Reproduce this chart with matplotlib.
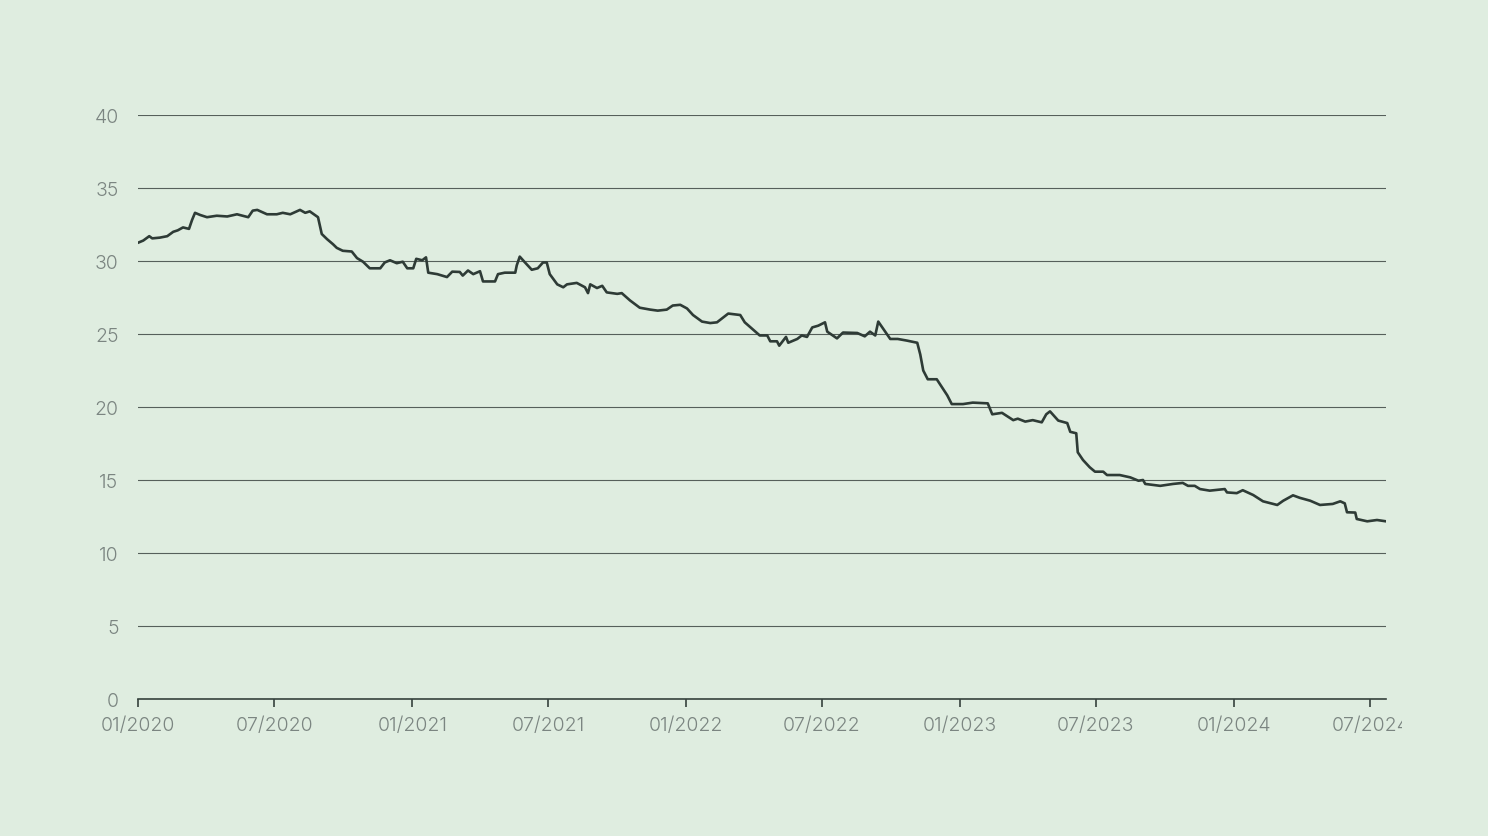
import numpy as np
import pandas as pd
import matplotlib
matplotlib.use("Agg")
import matplotlib.pyplot as plt
import matplotlib.dates as mdates
from matplotlib.transforms import Bbox, TransformedBbox

# values
dates = [
    "2020-01-01", "2020-01-08", "2020-01-16", "2020-01-20", "2020-01-30", "2020-02-09",
    "2020-02-17", "2020-02-23", "2020-03-01", "2020-03-09", "2020-03-13", "2020-03-17",
    "2020-03-24", "2020-04-02", "2020-04-15", "2020-04-29", "2020-05-12", "2020-05-27",
    "2020-06-02", "2020-06-08", "2020-06-21", "2020-07-04", "2020-07-12", "2020-07-22",
    "2020-08-04", "2020-08-11", "2020-08-17", "2020-08-28", "2020-09-02", "2020-09-09",
    "2020-09-17", "2020-09-22", "2020-09-30", "2020-10-12", "2020-10-19", "2020-10-27",
    "2020-11-05", "2020-11-19", "2020-11-25", "2020-12-02", "2020-12-11", "2020-12-19",
    "2020-12-25", "2021-01-02", "2021-01-06", "2021-01-14", "2021-01-19", "2021-01-22",
    "2021-02-03", "2021-02-16", "2021-02-23", "2021-03-05", "2021-03-09", "2021-03-16",
    "2021-03-23", "2021-04-01", "2021-04-05", "2021-04-21", "2021-04-25", "2021-05-04",
    "2021-05-18", "2021-05-20", "2021-05-24", "2021-05-31", "2021-06-09", "2021-06-17",
    "2021-06-24", "2021-06-29", "2021-07-03", "2021-07-13", "2021-07-21", "2021-07-26",
    "2021-08-08", "2021-08-19", "2021-08-23", "2021-08-26", "2021-09-04", "2021-09-11",
    "2021-09-17", "2021-10-01", "2021-10-07", "2021-10-18", "2021-10-31", "2021-11-14",
    "2021-11-24", "2021-12-06", "2021-12-14", "2021-12-24", "2022-01-02", "2022-01-10",
    "2022-01-22", "2022-02-02", "2022-02-11", "2022-02-26", "2022-03-14", "2022-03-20",
    "2022-03-30", "2022-04-09", "2022-04-19", "2022-04-23", "2022-05-02", "2022-05-05",
    "2022-05-14", "2022-05-17", "2022-05-29", "2022-06-04", "2022-06-11", "2022-06-18",
    "2022-06-26", "2022-07-05", "2022-07-08", "2022-07-21", "2022-07-29", "2022-08-17",
    "2022-08-27", "2022-09-03", "2022-09-10", "2022-09-14", "2022-09-20", "2022-09-30",
    "2022-10-10", "2022-10-22", "2022-11-05", "2022-11-09", "2022-11-13", "2022-11-19",
    "2022-12-01", "2022-12-08", "2022-12-15", "2022-12-21", "2023-01-05", "2023-01-18",
    "2023-02-07", "2023-02-13", "2023-02-26", "2023-03-13", "2023-03-19", "2023-03-29",
    "2023-04-08", "2023-04-20", "2023-04-26", "2023-05-01", "2023-05-12", "2023-05-24",
    "2023-05-28", "2023-06-05", "2023-06-07", "2023-06-14", "2023-06-23", "2023-06-30",
    "2023-07-11", "2023-07-16", "2023-08-02", "2023-08-16", "2023-08-27", "2023-09-02",
    "2023-09-05", "2023-09-25", "2023-10-12", "2023-10-25", "2023-11-01", "2023-11-10",
    "2023-11-17", "2023-11-30", "2023-12-20", "2023-12-23", "2024-01-05", "2024-01-13",
    "2024-01-27", "2024-02-09", "2024-02-28", "2024-03-07", "2024-03-20", "2024-03-29",
    "2024-04-12", "2024-04-25", "2024-05-12", "2024-05-22", "2024-05-28", "2024-05-31",
    "2024-06-11", "2024-06-13", "2024-06-27", "2024-07-10", "2024-07-22",
]
values = [
    31.25, 31.4, 31.7, 31.55, 31.6, 31.7,
    32.0, 32.1, 32.3, 32.2, 32.8, 33.3,
    33.15, 33.0, 33.1, 33.05, 33.2, 33.0,
    33.45, 33.5, 33.2, 33.2, 33.3, 33.2,
    33.5, 33.3, 33.4, 33.0, 31.85, 31.5,
    31.15, 30.9, 30.7, 30.65, 30.2, 29.95,
    29.5, 29.5, 29.9, 30.05, 29.85, 29.95,
    29.5, 29.5, 30.15, 30.05, 30.25, 29.2,
    29.1, 28.9, 29.27, 29.25, 29.0, 29.35,
    29.1, 29.3, 28.6, 28.6, 29.1, 29.2,
    29.2, 29.7, 30.3, 29.9, 29.4, 29.5,
    29.9, 29.9, 29.1, 28.4, 28.2, 28.4,
    28.5, 28.2, 27.8, 28.4, 28.15, 28.3,
    27.85, 27.75, 27.8, 27.3, 26.8, 26.67,
    26.6, 26.67, 26.95, 27.0, 26.75, 26.3,
    25.85, 25.75, 25.8, 26.4, 26.3, 25.8,
    25.35, 24.9, 24.9, 24.5, 24.5, 24.2,
    24.8, 24.4, 24.66, 24.9, 24.8, 25.45,
    25.57, 25.8, 25.16, 24.7, 25.1, 25.07,
    24.84, 25.16, 24.9, 25.85, 25.4, 24.66,
    24.66, 24.55, 24.4, 23.6, 22.5, 21.9,
    21.9, 21.35, 20.8, 20.2, 20.2, 20.3,
    20.25, 19.5, 19.6, 19.1, 19.2, 19.0,
    19.1, 18.95, 19.5, 19.7, 19.07, 18.9,
    18.3, 18.2, 16.9, 16.37, 15.87, 15.57,
    15.57, 15.34, 15.34, 15.18, 14.95, 15.0,
    14.73, 14.6, 14.73, 14.8, 14.6, 14.6,
    14.38, 14.27, 14.38, 14.15, 14.1, 14.3,
    13.97, 13.54, 13.29, 13.58, 13.95, 13.78,
    13.58, 13.29, 13.36, 13.54, 13.4, 12.79,
    12.77, 12.33, 12.17, 12.26, 12.17,
]
y_ticks = [0, 5, 10, 15, 20, 25, 30, 35, 40]
x_ticks = ["2020-01-01", "2020-07-01", "2021-01-01", "2021-07-01", "2022-01-01",
           "2022-07-01", "2023-01-01", "2023-07-01", "2024-01-01", "2024-07-01"]

bg = "#dfede0"
line_c = "#2e3b36"
grid_c = "#56605b"
label_c = "#7b8581"

plt.rcParams["font.family"] = ["Inter", "DejaVu Sans"]
plt.rcParams["font.weight"] = 300

fig = plt.figure(figsize=(14.88, 8.37), dpi=100, facecolor=bg)
ax = fig.add_axes([138 / 1488, 1 - 700 / 837, (1386 - 138) / 1488, (700 - 116) / 837])
ax.set_facecolor(bg)

x = pd.to_datetime(dates)
ax.plot(x, values, color=line_c, lw=1.9, solid_joinstyle="round", zorder=3)

ax.set_ylim(0, 40)
ax.set_yticks(y_ticks)
ax.set_xlim(pd.Timestamp("2020-01-01"), pd.Timestamp("2024-07-22"))
ax.set_xticks(pd.to_datetime(x_ticks))
ax.xaxis.set_major_formatter(mdates.DateFormatter("%m/%Y"))

ax.yaxis.grid(True, color=grid_c, lw=0.8)
ax.set_axisbelow(True)
for s in ["top", "right", "left"]:
    ax.spines[s].set_visible(False)
ax.spines["bottom"].set_color("#36423d")
ax.spines["bottom"].set_linewidth(1.2)

ax.tick_params(axis="y", length=0, pad=14, labelsize=14, labelcolor=label_c)
ax.tick_params(axis="x", length=6, width=1.2, color="#36423d", pad=6,
               labelsize=14, labelcolor=label_c)

# the last date label is cut at the right edge in the reference
clip = TransformedBbox(Bbox([[0, 0], [1402 / 1488, 1]]), fig.transFigure)
for lab in ax.get_xticklabels():
    lab.set_clip_box(clip)
    lab.set_clip_on(True)

fig.savefig("out.png", dpi=100, facecolor=bg)
